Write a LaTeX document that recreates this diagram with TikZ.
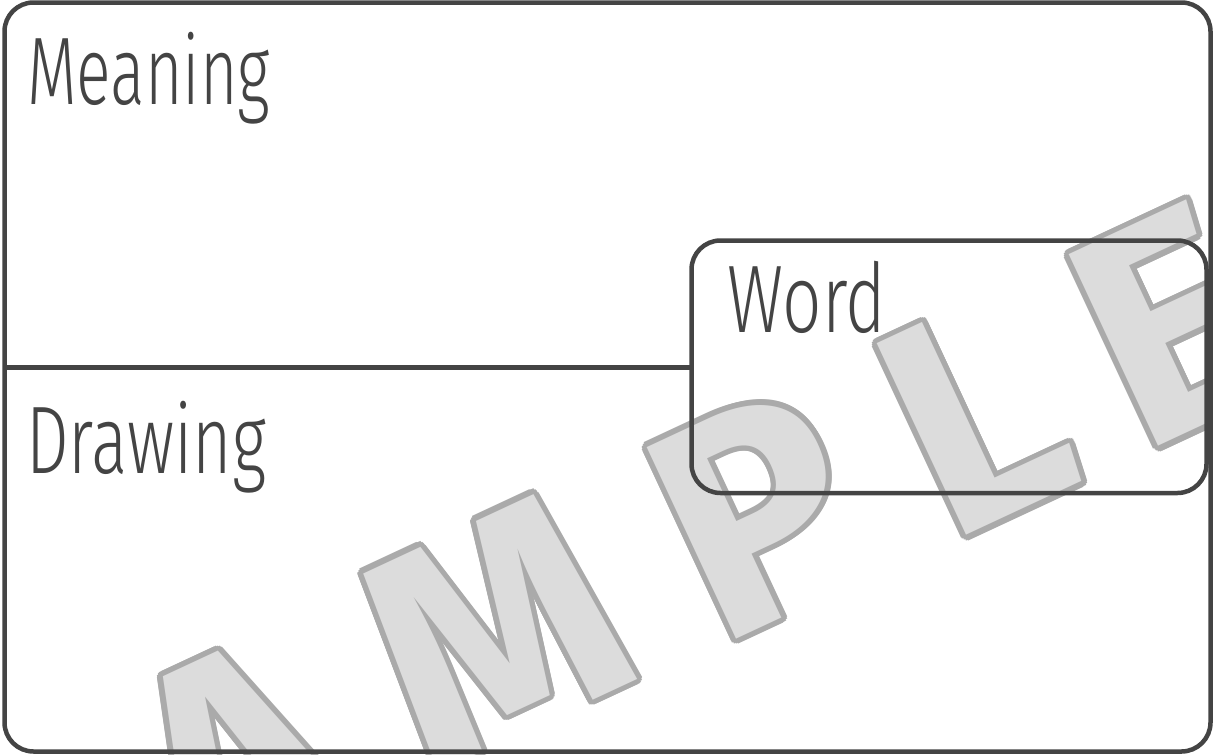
\documentclass[tikz,border=0pt]{standalone}
\usepackage{fontspec}
\newfontfamily\lblfont{Fira Sans}[UprightFont=* Light]
\newfontfamily\wmfont{Fira Sans}[UprightFont=* Bold]
\definecolor{ink}{HTML}{444444}
\definecolor{wmline}{HTML}{AAAAAA}
\definecolor{wmfill}{HTML}{DCDCDC}
\tikzset{
  frame/.style={draw=ink, line width=4.5pt, rounded corners=29pt},
  divider/.style={draw=ink, line width=4.5pt},
  wmtext/.style={font=\wmfont\fontsize{305}{305}\selectfont, inner sep=0pt, rotate=25},
  lbl/.style={text=ink, inner sep=0pt, anchor=base west},
}
\newcommand\lbltext[2]{\resizebox{#1}{\height}{\lblfont\fontsize{96}{96}\selectfont #2}}
% outlined watermark glyph: ring of copies in wmline, then the glyph in wmfill
\newcommand\wmglyph[1]{%
  \leavevmode
  \foreach \a in {0,20,...,340}{%
    \pgfmathsetlengthmacro\wmdx{5.5pt*cos(\a)}%
    \pgfmathsetlengthmacro\wmdy{5.5pt*sin(\a)}%
    \rlap{\hspace*{\wmdx}\raisebox{\wmdy}{\color{wmline}#1}}%
  }%
  {\color{wmfill}#1}%
}
\begin{document}
\begin{tikzpicture}[x=1pt,y=-1pt]
\useasboundingbox (0,0) rectangle (1213,755);
% watermark
\begin{scope}
\clip (0,0) rectangle (1213,755);
\foreach \ch/\X/\Y in {A/235/760, M/493/630, P/757/513, L/975/415, E/1169/325} {
  \node[wmtext] (wm\ch) at (\X,\Y) {\wmglyph{\ch}};
}
\end{scope}
% frames
\coordinate (oTL) at (4.5,2.5);
\coordinate (oBR) at (1210.5,751.5);
\coordinate (iTL) at (691.5,240.5);
\coordinate (iBR) at (1206.5,493);
\coordinate (hL) at (4.5,367.3);
\coordinate (hR) at (691.5,367.3);
\draw[frame] (oTL) rectangle (oBR);
\draw[frame] (iTL) rectangle (iBR);
\draw[divider] (hL) -- (hR);
% labels
\node[lbl] (meaning) at (27,104) {\lbltext{243pt}{Meaning}};
\node[lbl] (drawing) at (26,473) {\lbltext{240pt}{Drawing}};
\node[lbl] (word) at (727,332) {\lbltext{159pt}{Word}};
\end{tikzpicture}
\end{document}
